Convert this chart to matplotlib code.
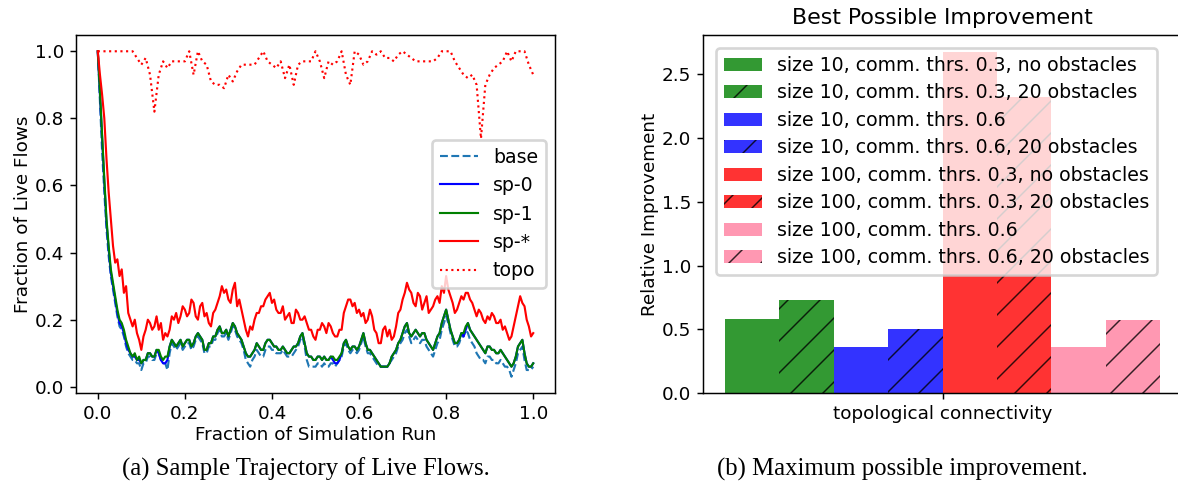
import numpy as np
import matplotlib
matplotlib.use("Agg")
import matplotlib.pyplot as plt

# ---------------- data ----------------
sp_star = [1.00, 0.93, 0.87, 0.80, 0.68, 0.58, 0.50, 0.42, 0.37, 0.38,
           0.33, 0.35, 0.28, 0.30, 0.22, 0.20, 0.18, 0.20, 0.16, 0.14,
           0.11, 0.15, 0.17, 0.20, 0.19, 0.17, 0.18, 0.21, 0.17, 0.19,
           0.14, 0.16, 0.15, 0.17, 0.21, 0.20, 0.22, 0.19, 0.21, 0.24,
           0.23, 0.21, 0.22, 0.26, 0.25, 0.21, 0.20, 0.24, 0.25, 0.21,
           0.22, 0.19, 0.18, 0.22, 0.23, 0.25, 0.27, 0.30, 0.28, 0.29,
           0.26, 0.25, 0.29, 0.31, 0.24, 0.26, 0.23, 0.20, 0.17, 0.15,
           0.18, 0.17, 0.20, 0.22, 0.22, 0.24, 0.24, 0.26, 0.27, 0.28,
           0.25, 0.26, 0.23, 0.22, 0.22, 0.24, 0.20, 0.21, 0.22, 0.19,
           0.19, 0.23, 0.22, 0.20, 0.20, 0.21, 0.19, 0.17, 0.17, 0.15,
           0.14, 0.17, 0.17, 0.19, 0.18, 0.16, 0.19, 0.18, 0.16, 0.15,
           0.15, 0.17, 0.17, 0.22, 0.24, 0.26, 0.26, 0.24, 0.25, 0.22,
           0.23, 0.21, 0.22, 0.19, 0.20, 0.23, 0.21, 0.17, 0.16, 0.13,
           0.13, 0.17, 0.18, 0.15, 0.17, 0.14, 0.15, 0.18, 0.22, 0.23,
           0.26, 0.28, 0.31, 0.29, 0.28, 0.25, 0.24, 0.28, 0.27, 0.23,
           0.25, 0.27, 0.22, 0.23, 0.24, 0.26, 0.27, 0.25, 0.30, 0.28,
           0.33, 0.29, 0.27, 0.25, 0.22, 0.23, 0.25, 0.27, 0.26, 0.28,
           0.28, 0.26, 0.25, 0.23, 0.21, 0.23, 0.22, 0.20, 0.19, 0.21,
           0.20, 0.22, 0.21, 0.19, 0.19, 0.20, 0.17, 0.18, 0.16, 0.14,
           0.15, 0.18, 0.21, 0.24, 0.27, 0.25, 0.24, 0.20, 0.18, 0.15,
           0.16]

sp_1 = [1.00, 0.88, 0.75, 0.62, 0.50, 0.42, 0.35, 0.31, 0.27, 0.23,
        0.20, 0.19, 0.17, 0.14, 0.12, 0.10, 0.09, 0.10, 0.08, 0.09,
        0.07, 0.08, 0.08, 0.10, 0.10, 0.09, 0.09, 0.11, 0.11, 0.09,
        0.08, 0.09, 0.09, 0.12, 0.14, 0.13, 0.12, 0.13, 0.14, 0.12,
        0.13, 0.14, 0.14, 0.12, 0.13, 0.15, 0.16, 0.15, 0.14, 0.11,
        0.11, 0.13, 0.13, 0.15, 0.15, 0.17, 0.18, 0.16, 0.16, 0.17,
        0.15, 0.17, 0.19, 0.18, 0.16, 0.15, 0.14, 0.12, 0.10, 0.09,
        0.09, 0.10, 0.11, 0.13, 0.12, 0.11, 0.11, 0.13, 0.14, 0.14,
        0.13, 0.12, 0.12, 0.11, 0.11, 0.12, 0.11, 0.10, 0.10, 0.11,
        0.12, 0.12, 0.13, 0.15, 0.16, 0.13, 0.10, 0.09, 0.09, 0.08,
        0.08, 0.09, 0.09, 0.08, 0.09, 0.08, 0.08, 0.09, 0.09, 0.08,
        0.08, 0.09, 0.10, 0.13, 0.14, 0.12, 0.11, 0.12, 0.12, 0.11,
        0.12, 0.14, 0.16, 0.13, 0.11, 0.11, 0.10, 0.09, 0.08, 0.07,
        0.06, 0.06, 0.06, 0.06, 0.07, 0.09, 0.10, 0.11, 0.13, 0.14,
        0.16, 0.18, 0.19, 0.16, 0.15, 0.16, 0.17, 0.16, 0.15, 0.16,
        0.16, 0.14, 0.13, 0.12, 0.11, 0.13, 0.15, 0.16, 0.19, 0.21,
        0.23, 0.20, 0.17, 0.15, 0.13, 0.13, 0.14, 0.16, 0.16, 0.18,
        0.19, 0.17, 0.16, 0.15, 0.14, 0.13, 0.12, 0.11, 0.10, 0.12,
        0.12, 0.11, 0.11, 0.10, 0.10, 0.11, 0.10, 0.09, 0.08, 0.07,
        0.06, 0.07, 0.09, 0.12, 0.13, 0.14, 0.10, 0.07, 0.06, 0.06,
        0.07]

sp_0 = [1.00, 0.87, 0.74, 0.61, 0.49, 0.41, 0.34, 0.30, 0.26, 0.22,
        0.19, 0.18, 0.16, 0.13, 0.11, 0.10, 0.09, 0.09, 0.08, 0.08,
        0.07, 0.08, 0.08, 0.10, 0.10, 0.09, 0.09, 0.11, 0.10, 0.08,
        0.07, 0.07, 0.08, 0.12, 0.14, 0.13, 0.12, 0.13, 0.14, 0.12,
        0.13, 0.14, 0.14, 0.12, 0.13, 0.15, 0.16, 0.15, 0.14, 0.11,
        0.11, 0.13, 0.13, 0.15, 0.15, 0.17, 0.18, 0.16, 0.16, 0.17,
        0.15, 0.17, 0.19, 0.18, 0.16, 0.15, 0.14, 0.12, 0.10, 0.09,
        0.09, 0.10, 0.11, 0.13, 0.12, 0.11, 0.11, 0.13, 0.14, 0.14,
        0.13, 0.12, 0.12, 0.11, 0.11, 0.12, 0.11, 0.10, 0.10, 0.11,
        0.12, 0.12, 0.13, 0.15, 0.16, 0.13, 0.10, 0.09, 0.09, 0.08,
        0.08, 0.09, 0.09, 0.08, 0.09, 0.08, 0.08, 0.09, 0.08, 0.07,
        0.07, 0.08, 0.10, 0.13, 0.14, 0.12, 0.11, 0.12, 0.12, 0.11,
        0.12, 0.14, 0.16, 0.13, 0.11, 0.11, 0.10, 0.09, 0.08, 0.07,
        0.06, 0.06, 0.06, 0.06, 0.07, 0.09, 0.10, 0.11, 0.13, 0.14,
        0.16, 0.18, 0.19, 0.16, 0.15, 0.16, 0.17, 0.16, 0.15, 0.16,
        0.16, 0.14, 0.13, 0.12, 0.11, 0.13, 0.15, 0.16, 0.19, 0.21,
        0.23, 0.20, 0.17, 0.15, 0.13, 0.13, 0.14, 0.16, 0.15, 0.17,
        0.19, 0.17, 0.16, 0.15, 0.14, 0.13, 0.12, 0.11, 0.10, 0.12,
        0.12, 0.11, 0.11, 0.10, 0.10, 0.11, 0.10, 0.09, 0.08, 0.07,
        0.06, 0.07, 0.09, 0.12, 0.13, 0.14, 0.10, 0.07, 0.06, 0.06,
        0.07]

base = [1.00, 0.85, 0.70, 0.58, 0.47, 0.39, 0.33, 0.29, 0.25, 0.21,
        0.18, 0.17, 0.15, 0.12, 0.10, 0.09, 0.08, 0.08, 0.07, 0.07,
        0.05, 0.07, 0.07, 0.09, 0.09, 0.08, 0.08, 0.10, 0.10, 0.08,
        0.07, 0.07, 0.05, 0.10, 0.13, 0.12, 0.11, 0.12, 0.13, 0.11,
        0.12, 0.13, 0.13, 0.11, 0.12, 0.14, 0.15, 0.14, 0.13, 0.10,
        0.10, 0.12, 0.12, 0.14, 0.14, 0.16, 0.17, 0.15, 0.15, 0.16,
        0.14, 0.16, 0.18, 0.17, 0.15, 0.14, 0.13, 0.11, 0.08, 0.07,
        0.06, 0.08, 0.09, 0.11, 0.10, 0.09, 0.09, 0.11, 0.12, 0.12,
        0.11, 0.11, 0.10, 0.10, 0.10, 0.11, 0.10, 0.09, 0.09, 0.09,
        0.10, 0.11, 0.12, 0.14, 0.15, 0.12, 0.08, 0.06, 0.06, 0.06,
        0.06, 0.07, 0.07, 0.06, 0.07, 0.06, 0.06, 0.07, 0.07, 0.06,
        0.07, 0.08, 0.09, 0.12, 0.13, 0.11, 0.10, 0.11, 0.11, 0.10,
        0.11, 0.13, 0.15, 0.12, 0.10, 0.10, 0.09, 0.08, 0.07, 0.06,
        0.06, 0.06, 0.06, 0.06, 0.07, 0.08, 0.09, 0.10, 0.12, 0.13,
        0.14, 0.16, 0.17, 0.15, 0.13, 0.14, 0.15, 0.14, 0.13, 0.14,
        0.14, 0.12, 0.11, 0.10, 0.09, 0.11, 0.13, 0.14, 0.17, 0.19,
        0.21, 0.19, 0.16, 0.14, 0.12, 0.12, 0.13, 0.15, 0.15, 0.17,
        0.16, 0.14, 0.13, 0.12, 0.10, 0.09, 0.08, 0.08, 0.07, 0.09,
        0.09, 0.08, 0.08, 0.07, 0.07, 0.08, 0.07, 0.06, 0.06, 0.05,
        0.03, 0.05, 0.07, 0.10, 0.11, 0.12, 0.08, 0.05, 0.05, 0.05,
        0.06]

topo = [1.00, 1.00, 1.00, 1.00, 1.00, 1.00, 1.00, 1.00, 1.00, 0.98,
        0.96, 0.98, 0.93, 0.82, 0.93, 0.97, 0.95, 0.97, 0.97, 0.97,
        0.97, 1.00, 0.93, 1.00, 0.97, 0.96, 0.91, 0.90, 0.90, 0.89,
        0.93, 0.91, 0.94, 0.96, 0.96, 0.96, 0.96, 0.98, 1.00, 0.97,
        0.96, 0.95, 0.97, 0.92, 0.96, 0.90, 0.96, 0.97, 0.97, 0.97,
        1.00, 0.97, 0.92, 0.97, 0.96, 0.97, 1.00, 0.93, 0.90, 1.00,
        0.99, 0.96, 0.97, 1.00, 0.99, 1.00, 0.98, 0.98, 0.97, 0.99,
        1.00, 0.99, 0.98, 0.97, 0.97, 0.97, 0.97, 0.97, 0.98, 1.00,
        1.00, 1.00, 0.97, 0.95, 0.93, 0.92, 0.93, 0.90, 0.74, 0.90,
        0.93, 0.95, 0.96, 0.97, 1.00, 0.97, 1.00, 1.00, 1.00, 0.96,
        0.93]

bar_labels = ["size 10, comm. thrs. 0.3, no obstacles",
              "size 10, comm. thrs. 0.3, 20 obstacles",
              "size 10, comm. thrs. 0.6",
              "size 10, comm. thrs. 0.6, 20 obstacles",
              "size 100, comm. thrs. 0.3, no obstacles",
              "size 100, comm. thrs. 0.3, 20 obstacles",
              "size 100, comm. thrs. 0.6",
              "size 100, comm. thrs. 0.6, 20 obstacles"]
bar_values = [0.58, 0.73, 0.36, 0.50, 2.675, 2.325, 0.36, 0.57]
bar_colors = ["green", "green", "blue", "blue", "red", "red", "#ff7f9f", "#ff7f9f"]
bar_hatches = ["", "//", "", "//", "", "//", "", "//"]
category = "topological connectivity"

# ---------------- style ----------------
DPI = 192
W, H = 1178, 491
plt.rcParams.update({
    "font.family": "DejaVu Sans",
    "font.size": 6.9,
    "legend.fontsize": 7.1,
    "axes.linewidth": 0.55,
    "lines.linewidth": 0.8,
    "xtick.major.width": 0.55,
    "ytick.major.width": 0.55,
    "xtick.major.size": 2.1,
    "ytick.major.size": 2.1,
    "xtick.major.pad": 2.4,
    "ytick.major.pad": 2.4,
    "axes.labelpad": 1.0,
    "hatch.linewidth": 0.55,
    "axes.titlepad": 4.0,
})

fig = plt.figure(figsize=(W / DPI, H / DPI), dpi=DPI)

def rect(l, r, t, b):
    return [l / W, (H - b) / H, (r - l) / W, (b - t) / H]

def xs(series):
    return np.linspace(0.0, 1.0, len(series))

# ---------------- left plot ----------------
ax1 = fig.add_axes(rect(76, 555, 35, 393))
ax1.plot(xs(base), base, linestyle="--", color="#1f77b4", label="base")
ax1.plot(xs(sp_0), sp_0, color="blue", label="sp-0")
ax1.plot(xs(sp_1), sp_1, color="green", label="sp-1")
ax1.plot(xs(sp_star), sp_star, color="red", label="sp-*")
ax1.plot(xs(topo), topo, linestyle=":", color="red", label="topo")
ax1.set_xlabel("Fraction of Simulation Run")
ax1.set_ylabel("Fraction of Live Flows")
ax1.set_xticks([0.0, 0.2, 0.4, 0.6, 0.8, 1.0])
ax1.set_yticks([0.0, 0.2, 0.4, 0.6, 0.8, 1.0])
ax1.legend(loc="center right")

# ---------------- right plot ----------------
ax2 = fig.add_axes(rect(703, 1182, 35, 393))
w = 0.1
n = len(bar_values)
for i in range(n):
    ax2.bar((i - (n - 1) / 2) * w, bar_values[i], width=w, color=bar_colors[i],
            alpha=0.8, hatch=bar_hatches[i], edgecolor="black", linewidth=0,
            label=bar_labels[i])
ax2.set_xticks([0])
ax2.set_xticklabels([category])
ax2.set_yticks([0.0, 0.5, 1.0, 1.5, 2.0, 2.5])
ax2.set_ylabel("Relative Improvement")
ax2.set_title("Best Possible Improvement", fontsize=8.3)
ax2.legend(loc="upper left", labelspacing=0.45, borderaxespad=0.7)

# ---------------- captions ----------------
fig.text(306 / W, 1 - 469 / H, "(a) Sample Trajectory of Live Flows.",
         family="Liberation Serif", fontsize=9.3, ha="center", va="center")
fig.text(902 / W, 1 - 469 / H, "(b) Maximum possible improvement.",
         family="Liberation Serif", fontsize=9.3, ha="center", va="center")

fig.savefig("out.png", dpi=DPI)
